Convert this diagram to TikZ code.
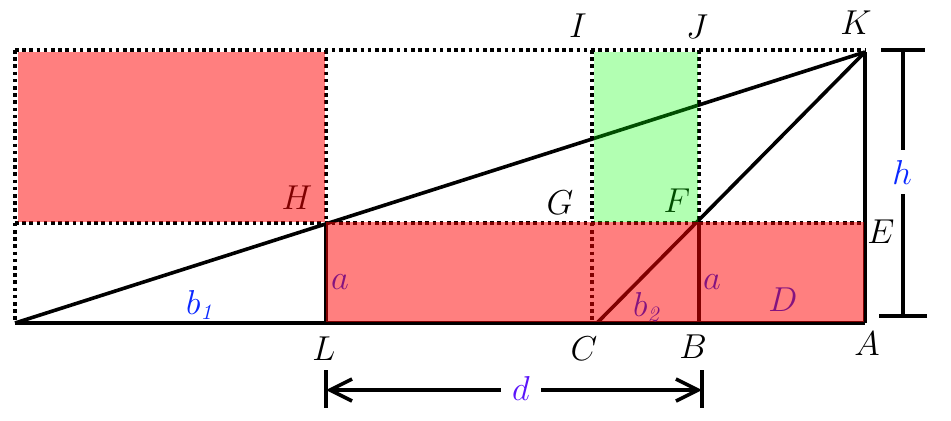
\documentclass[tikz,border=0pt]{standalone}
\usetikzlibrary{arrows.meta}
\definecolor{dcol}{RGB}{90,20,250}
\definecolor{bcol}{RGB}{10,40,255}
\begin{document}
\begin{tikzpicture}[x=0.5pt,y=-0.5pt,
  solidline/.style={line width=1.8pt},
  dotline/.style={line width=1.7pt, dash pattern=on 1.8pt off 1.8pt},
  lab/.style={font=\fontsize{16}{19}\selectfont, inner sep=0pt},
  redfill/.style={fill=red, fill opacity=0.5},
  greenfill/.style={fill=green, fill opacity=0.3}
]
\useasboundingbox (0,0) rectangle (951,420);
% points
\coordinate (O) at (15,323);
\coordinate (L) at (326,323);
\coordinate (C) at (597,323);
\coordinate (G0) at (592,323);
\coordinate (B) at (699,323);
\coordinate (A) at (865,323);
\coordinate (E) at (865,223);
\coordinate (K) at (865,52);
\coordinate (H) at (326,223);
\coordinate (F) at (699,223);
\coordinate (G) at (592,223);
\coordinate (I) at (592,50);
\coordinate (J) at (699,50);
\coordinate (TL) at (15,50);
\coordinate (TR) at (865,50);
\coordinate (ML) at (15,223);
\coordinate (TH) at (326,50);
% dotted lines
\draw[dotline] (TL) -- (TR);
\draw[dotline] (TL) -- (O);
\draw[dotline] (ML) -- (E);
\draw[dotline] (TH) -- (H);
\draw[dotline] (I) -- (G0);
\draw[dotline] (J) -- (F);
% solid lines
\draw[solidline] (O) -- (A);
\draw[solidline] (O) -- (K);
\draw[solidline] (C) -- (K);
\draw[solidline] (K) -- (A);
\draw[solidline] (H) -- (L);
\draw[solidline] (F) -- (B);
% labels
\node[lab] (lI) at (578,26) {$I$};
\node[lab] (lJ) at (697,27) {$J$};
\node[lab] (lK) at (856,23) {$K$};
\node[lab] (lG) at (560,203) {$G$};
\node[lab] (lF) at (677,201) {$F$};
\node[lab] (lE) at (881,232) {$E$};
\node[lab] (lH) at (297,198) {$H$};
\node[lab, text=bcol] (lb1) at (201,305) {$b_{\mathit{1}}$};
\node[lab, text=bcol] (la1) at (340,282) {$a$};
\node[lab, text=bcol] (la2) at (712,282) {$a$};
\node[lab, text=bcol] (lb2) at (648,307) {$b_{\mathit{2}}$};
\node[lab, text=bcol] (lD) at (783,300) {$D$};
\node[lab] (lL) at (324,349) {$L$};
\node[lab] (lC) at (584,349) {$C$};
\node[lab] (lB) at (693,347) {$B$};
\node[lab] (lA) at (867,344) {$A$};
% h measure
\coordinate (ht) at (903,48);
\coordinate (hb) at (903,318);
\draw[solidline, {Bar[width=22pt]}-{Bar[width=24pt]}] (ht) -- (hb);
\node[lab, text=bcol, fill=white, inner xsep=2pt, inner ysep=5pt] (lh) at (902,172) {$h$};
% d measure
\coordinate (dl) at (326,390);
\coordinate (dr) at (702,390);
\draw[solidline, {Straight Barb[length=11pt,width=11pt]}-{Straight Barb[length=11pt,width=11pt]}] (dl) -- (dr);
\draw[solidline] (dl) ++(0,-20) -- ++(0,38);
\draw[solidline] (dr) ++(0,-20) -- ++(0,38);
\node[lab, text=dcol, fill=white, inner xsep=5.5pt, inner ysep=2pt] (ld) at (521,388) {$d$};
% fills
\path[redfill] (17.5,51.5) rectangle (324.5,221.5);
\path[redfill] (325.5,221.5) rectangle (863.5,321.5);
\path[greenfill] (593.5,51.5) rectangle (697.5,221.5);
\end{tikzpicture}
\end{document}
